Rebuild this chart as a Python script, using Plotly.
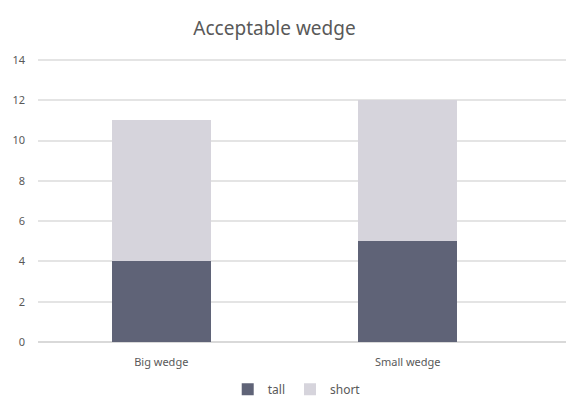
import plotly.graph_objects as go

# Chart data
categories = ["Big wedge", "Small wedge"]
tall = [4, 5]
short = [7, 7]

TEXT = "#595959"
FONT = "Noto Sans"

fig = go.Figure()
fig.add_trace(go.Bar(name="tall", x=categories, y=tall, marker_color="#5f6377",
                     marker_line_width=0))
fig.add_trace(go.Bar(name="short", x=categories, y=short, marker_color="#d6d4dc",
                     marker_line_width=0))

fig.update_layout(
    width=566, height=399,
    barmode="stack", bargap=0.6,
    paper_bgcolor="white", plot_bgcolor="white",
    margin=dict(l=38, r=0, t=58, b=57, autoexpand=False),
    font=dict(family=FONT, size=11, color=TEXT),
    title=dict(text="Acceptable wedge", x=0.485, xanchor="center", y=0.93, yanchor="middle",
               font=dict(family=FONT, size=19, color=TEXT)),
    showlegend=True,
    legend=dict(orientation="h", x=0.49, xanchor="center", y=-0.115, yanchor="top",
                font=dict(family=FONT, size=12, color=TEXT),
                itemwidth=30, tracegroupgap=0, traceorder="normal"),
    xaxis=dict(range=[-0.5, 1.642], showgrid=False, showline=False, ticks="",
               ticklabelstandoff=12, tickfont=dict(size=11, color=TEXT)),
    yaxis=dict(range=[0, 14.1], dtick=2, showgrid=True, gridcolor="#e4e4e4", gridwidth=1.5,
               zeroline=True, zerolinecolor="#d9d9d9", zerolinewidth=1.5,
               showline=False, ticks="", ticklabelstandoff=12,
               tickfont=dict(size=11, color=TEXT)),
)

fig.write_html("out.html")
